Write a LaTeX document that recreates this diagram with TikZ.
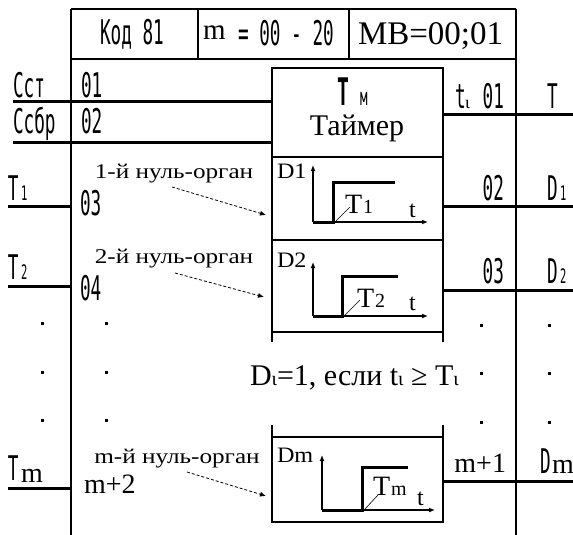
\documentclass[tikz,border=0pt]{standalone}
\usepackage{fontspec}
\usepackage{graphicx}
\setmainfont{Liberation Serif}
\newfontfamily\monofam{DejaVu Sans Mono}
\usetikzlibrary{arrows.meta}
% narrow glyphs for pin numbers and signal names
\newcommand\narrow[2]{{\fontsize{#1}{#1}\selectfont\monofam\scalebox{0.52}[1]{#2}}}
\newcommand\pin[1]{\narrow{34}{#1}}
\newcommand\ser[2]{{\fontsize{#1}{#1}\selectfont #2}}
% serif text widened horizontally
\newcommand\serw[3]{{\fontsize{#1}{#1}\selectfont\scalebox{#2}[1]{#3}}}
\begin{document}
\begin{tikzpicture}[x=1pt,y=-1pt,
  frame/.style={line width=2pt},
  divider/.style={line width=2.8pt},
  bar/.style={line width=3pt},
  boxline/.style={line width=1.6pt},
  axis/.style={line width=1.2pt,-{Latex[length=6pt,width=5pt]}},
  stepline/.style={line width=3pt},
  diag/.style={line width=0.6pt},
  lead/.style={line width=0.8pt,dash pattern=on 3pt off 2pt,-{Latex[length=6pt,width=5pt]}},
  txt/.style={inner sep=0pt,outer sep=0pt,anchor=base west},
  txtc/.style={inner sep=0pt,outer sep=0pt,anchor=base},
  txte/.style={inner sep=0pt,outer sep=0pt,anchor=base east},
  dotmark/.style={fill,inner sep=0pt,minimum size=3pt}]
\useasboundingbox (0,0) rectangle (573,535);
\fill[white] (0,0) rectangle (573,535);

% ---- frame coordinates ----
\coordinate (hl-t) at (71,9);   \coordinate (hr-t) at (516,9);
\coordinate (hl-b) at (71,59);  \coordinate (hr-b) at (516,59);
\coordinate (fl-b) at (71,535); \coordinate (fr-b) at (516,535);
\coordinate (d1-t) at (198,9);  \coordinate (d1-b) at (198,59);
\coordinate (d2-t) at (349,9);  \coordinate (d2-b) at (349,59);

% header and side rails
\draw[frame] (hl-t) -- (hr-t);
\draw[frame] (hl-b) -- (hr-b);
\draw[frame] (hl-t) -- (fl-b);
\draw[frame] (hr-t) -- (fr-b);
\draw[divider] (d1-t) -- (d1-b);
\draw[divider] (d2-t) -- (d2-b);

% ---- timer block ----
\coordinate (bx-nw) at (272,68);  \coordinate (bx-ne) at (443,68);
\coordinate (bx-sw) at (272,342); \coordinate (bx-se) at (443,342);
\draw[boxline] (bx-sw) -- (bx-nw) -- (bx-ne) -- (bx-se);
\foreach \yy/\nm in {157/h1,240/h2,332/h3}{
  \coordinate (\nm-l) at (272,\yy); \coordinate (\nm-r) at (443,\yy);
  \draw[boxline] (\nm-l) -- (\nm-r);
}
\coordinate (bm-nw) at (272,425); \coordinate (bm-ne) at (443,425);
\coordinate (bm-sw) at (272,522); \coordinate (bm-se) at (443,522);
\coordinate (bm-l) at (272,437);  \coordinate (bm-r) at (443,437);
\draw[boxline] (bm-nw) -- (bm-sw) -- (bm-se) -- (bm-ne);
\draw[boxline] (bm-l) -- (bm-r);

% ---- input lines ----
\coordinate (cst-a) at (13,101);  \coordinate (cst-b) at (272,101);
\coordinate (csb-a) at (13,142);  \coordinate (csb-b) at (272,142);
\coordinate (t1-a) at (8,206);    \coordinate (t1-b) at (71,206);
\coordinate (t2-a) at (8,286);    \coordinate (t2-b) at (71,286);
\coordinate (tm-a) at (8,488);    \coordinate (tm-b) at (71,488);
\draw[bar] (cst-a) -- (cst-b);
\draw[bar] (csb-a) -- (csb-b);
\draw[bar] (t1-a) -- (t1-b);
\draw[bar] (t2-a) -- (t2-b);
\draw[bar] (tm-a) -- (tm-b);

% ---- output lines ----
\coordinate (o0-a) at (443,114); \coordinate (o0-b) at (573,114);
\coordinate (o1-a) at (443,206); \coordinate (o1-b) at (573,206);
\coordinate (o2-a) at (443,290); \coordinate (o2-b) at (573,290);
\coordinate (om-a) at (443,481); \coordinate (om-b) at (573,481);
\draw[bar] (o0-a) -- (o0-b);
\draw[bar] (o1-a) -- (o1-b);
\draw[bar] (o2-a) -- (o2-b);
\draw[bar] (om-a) -- (om-b);

% ---- header texts ----
\node[txt] (kod) at (100,45) {\pin{Код 81}};
\node[txt] (mvar) at (203,40) {\ser{29}{m}};
\node[txt] (mrng) at (238,46) {\pin{= 00 - 20}};
\node[txt] (mv) at (358,45) {\ser{33}{МВ=00;01}};

% ---- left labels ----
\node[txt] (lcst) at (13,97) {\pin{Сст}};
\node[txt] (lcsb) at (13,133) {\pin{Ссбр}};
\node[txt] (lt1) at (8,200) {\pin{T}};
\node[txt] (lt1s) at (21,200) {\narrow{20}{1}};
\node[txt] (lt2) at (8,279) {\pin{T}};
\node[txt] (lt2s) at (21,279) {\narrow{20}{2}};
\node[txt] (ltm) at (8,480) {\pin{T}};
\node[txt] (ltms) at (21,482) {\ser{28}{m}};

\node[txt] (p01) at (81,97) {\pin{01}};
\node[txt] (p02) at (81,133) {\pin{02}};
\node[txt] (p03) at (80,215) {\pin{03}};
\node[txt] (p04) at (80,300) {\pin{04}};
\node[txt] (pm2) at (84,493) {\ser{28}{m+2}};

% ---- zero-detector captions and leaders ----
\node[txtc] (no1) at (174,178) {\serw{21}{1.2}{1-й нуль-орган}};
\node[txtc] (no2) at (174,263) {\serw{21}{1.2}{2-й нуль-орган}};
\node[txtc] (nom) at (177,463) {\serw{21}{1.2}{m-й нуль-орган}};
\coordinate (a1s) at (172,187); \coordinate (a1e) at (266,215);
\coordinate (a2s) at (175,273); \coordinate (a2e) at (264,297);
\coordinate (ams) at (187,472); \coordinate (ame) at (266,496);
\draw[lead] (a1s) -- (a1e);
\draw[lead] (a2s) -- (a2e);
\draw[lead] (ams) -- (ame);

% ---- timer title ----
\node[txt] (tbig) at (337,105) {{\fontsize{38}{38}\selectfont\monofam\bfseries\scalebox{0.52}[1]{T}}};
\node[txt] (tsm) at (360,105) {\narrow{24}{м}};
\node[txtc] (tmr) at (357,135) {\ser{30}{Таймер}};

% ---- characteristic 1 ----
\coordinate (g1o) at (313,222); \coordinate (g1y) at (313,165); \coordinate (g1x) at (428,222);
\coordinate (g1a) at (333,222); \coordinate (g1b) at (333,182); \coordinate (g1c) at (395,182);
\coordinate (g1d) at (336,221); \coordinate (g1e) at (350,207);
\draw[axis] (g1o) -- (g1y);
\draw[axis] (g1o) -- (g1x);
\draw[stepline] (g1o) -- (g1a) -- (g1b) -- (g1c);
\draw[diag] (g1d) -- (g1e);
\node[txt] (g1D) at (277,178) {\serw{22}{1.1}{D1}};
\node[txt] (g1T) at (345,213) {\ser{28}{T}};
\node[txt] (g1Ts) at (363,213) {\ser{20}{1}};
\node[txt] (g1t) at (409,217) {\ser{24}{t}};

% ---- characteristic 2 ----
\coordinate (g2o) at (313,316); \coordinate (g2y) at (313,262); \coordinate (g2x) at (428,316);
\coordinate (g2a) at (342,316); \coordinate (g2b) at (342,276); \coordinate (g2c) at (398,276);
\coordinate (g2d) at (345,315); \coordinate (g2e) at (360,300);
\draw[axis] (g2o) -- (g2y);
\draw[axis] (g2o) -- (g2x);
\draw[stepline] (g2o) -- (g2a) -- (g2b) -- (g2c);
\draw[diag] (g2d) -- (g2e);
\node[txt] (g2D) at (277,267) {\serw{22}{1.1}{D2}};
\node[txt] (g2T) at (357,307) {\ser{28}{T}};
\node[txt] (g2Ts) at (375,307) {\ser{20}{2}};
\node[txt] (g2t) at (409,310) {\ser{24}{t}};

% ---- characteristic m ----
\coordinate (gmo) at (322,510); \coordinate (gmy) at (322,455); \coordinate (gmx) at (435,510);
\coordinate (gma) at (362,510); \coordinate (gmb) at (362,467); \coordinate (gmc) at (408,467);
\coordinate (gmd) at (365,509); \coordinate (gme) at (378,495);
\draw[axis] (gmo) -- (gmy);
\draw[axis] (gmo) -- (gmx);
\draw[stepline] (gmo) -- (gma) -- (gmb) -- (gmc);
\draw[diag] (gmd) -- (gme);
\node[txt] (gmD) at (277,462) {\serw{22}{1.1}{Dm}};
\node[txt] (gmT) at (373,495) {\ser{28}{T}};
\node[txt] (gmTs) at (391,495) {\ser{20}{m}};
\node[txt] (gmt) at (417,505) {\ser{24}{t}};

% ---- condition ----
\node[txt] (cond) at (250,385) {\ser{30}{D{\fontsize{20}{20}\selectfont ι}=1, если t{\fontsize{20}{20}\selectfont ι} ≥ T{\fontsize{20}{20}\selectfont ι}}};

% ---- output labels ----
\node[txt] (rt) at (455,108) {\pin{t}};
\node[txt] (rti) at (465,108) {\ser{18}{ι}};
\node[txte] (r01) at (504,108) {\pin{01}};
\node[txte] (r02) at (504,200) {\pin{02}};
\node[txte] (r03) at (504,283) {\pin{03}};
\node[txte] (rm1) at (506,472) {\ser{28}{m+1}};

\node[txt] (qT) at (547,108) {\pin{T}};
\node[txt] (qD1) at (547,200) {\pin{D}};
\node[txt] (qD1s) at (560,200) {\narrow{20}{1}};
\node[txt] (qD2) at (547,283) {\pin{D}};
\node[txt] (qD2s) at (560,283) {\narrow{20}{2}};
\node[txt] (qDm) at (540,473) {\pin{D}};
\node[txt] (qDms) at (552,473) {\ser{28}{m}};

% ---- ellipsis dots ----
\foreach \yy [count=\k] in {323,372,420}{
  \node[dotmark] (dl\k) at (42,\yy) {};
  \node[dotmark] (dp\k) at (106,\yy) {};
}
\foreach \yy [count=\k] in {325,373,422}{
  \node[dotmark] (dr\k) at (481,\yy) {};
  \node[dotmark] (dq\k) at (549,\yy) {};
}
\end{tikzpicture}
\end{document}
